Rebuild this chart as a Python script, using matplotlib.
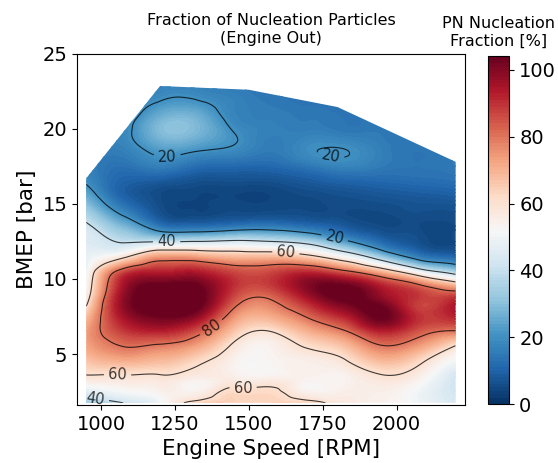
import numpy as np
import matplotlib
matplotlib.use("Agg")
import matplotlib.pyplot as plt
import matplotlib.tri as mtri
from matplotlib.patches import Polygon

# operating map grid
speed = [950, 1075, 1200, 1325, 1450, 1575, 1700, 1825, 1950, 2075, 2200]
bmep = [1.75, 2.5, 3.5, 4.5, 5.5, 6.5, 7.5, 8.5, 9.5, 10.5, 11.5,
        12.5, 13.5, 14.5, 15.5, 16.5, 17.5, 18.5, 19.5, 20.5, 21.5, 23]

# nucleation fraction [%], one row per bmep value
fraction = [
    [33, 40, 50, 63, 64, 64, 63, 57, 54, 50, 44],
    [46, 51, 54, 54, 62, 62, 54, 55, 55, 50, 42],
    [59, 59, 59, 56, 55, 54, 54, 54, 59, 55, 42],
    [66, 70, 68, 62, 54, 53, 55, 59, 68, 62, 50],
    [72, 80, 78, 72, 58, 54, 61, 67, 79, 73, 59],
    [73, 88, 92, 84, 66, 60, 70, 79, 92, 84, 79],
    [67, 95, 103, 98, 75, 71, 81, 92, 104, 90, 92],
    [57, 98, 108, 106, 84, 79, 92, 103, 100, 88, 93],
    [52, 95, 105, 104, 90, 88, 100, 104, 93, 83, 71],
    [49, 85, 92, 93, 86, 86, 90, 82, 68, 48, 33],
    [47, 57, 73, 72, 68, 68, 63, 50, 31, 15, 10],
    [45, 39, 39, 40, 42, 40, 35, 22, 11, 6, 5],
    [42, 28, 14, 12, 14, 15, 12, 8, 5, 5, 5],
    [34, 17, 6, 4, 5, 5, 5, 5, 5, 6, 6],
    [26, 10, 5, 4, 4, 4, 5, 6, 7, 8, 9],
    [19, 10, 8, 6, 6, 6, 8, 10, 11, 12, 13],
    [17, 13, 16, 12, 11, 11, 14, 17, 15, 14, 15],
    [17, 16, 22, 20, 18, 15, 19, 20.25, 16, 14, 15],
    [17, 18, 28, 27, 20.5, 16, 17, 16, 15, 14, 14],
    [17, 17, 28, 28, 18, 16, 15, 14, 14, 13, 13],
    [16, 16, 22, 22.5, 17, 15, 14, 13, 13, 13, 13],
    [15, 15, 16, 16, 15, 14, 13, 12, 12, 12, 12],
]

# upper limit of the measured map (full load line)
env_speed = [950, 1200, 1500, 1800, 2200]
env_bmep = [16.7, 22.85, 22.6, 21.45, 17.8]

line_levels = [20, 40, 60, 80]
label_pos = [(1224, 18.1), (1778, 18.2), (1222, 12.45), (1790, 12.7),
             (1626, 11.8), (1372, 6.8), (1056, 3.5), (983, 2.17), (1480, 2.1)]

# smooth interpolation of the grid
X, Y = np.meshgrid(speed, bmep)
Z = np.array(fraction, dtype=float)
tri = mtri.Triangulation(X.ravel() / 125.0, Y.ravel())
interp = mtri.CubicTriInterpolator(tri, Z.ravel(), kind="min_E")

xi = np.linspace(speed[0], speed[-1], 500)
yi = np.linspace(bmep[0], bmep[-1], 500)
XI, YI = np.meshgrid(xi, yi)
ZI = np.clip(interp(XI / 125.0, YI).filled(np.nan), 0, 103.9)

fig = plt.figure(figsize=(5.58, 4.63), dpi=100)
ax = fig.add_axes([0.138, 0.125, 0.695, 0.759])
cax = fig.add_axes([0.875, 0.127, 0.038, 0.751])

outline = Polygon(list(zip([speed[0]] + env_speed + [speed[-1]],
                           [bmep[0]] + env_bmep + [bmep[0]])),
                  closed=True, transform=ax.transData)

cf = ax.contourf(XI, YI, ZI, levels=np.linspace(0, 104, 105), cmap="RdBu_r")
cf.set_clip_path(outline)
cs = ax.contour(XI, YI, ZI, levels=line_levels, colors="k", linewidths=0.8, alpha=0.75)
cs.set_clip_path(outline)
ax.clabel(cs, fmt="%d", fontsize=10.5, inline=True, manual=label_pos)

ax.set_xlim(919, 2231)
ax.set_ylim(1.6, 25)
ax.set_xticks([1000, 1250, 1500, 1750, 2000])
ax.set_yticks([5, 10, 15, 20, 25])
ax.tick_params(labelsize=14)
ax.set_xlabel("Engine Speed [RPM]", fontsize=15.5)
ax.set_ylabel("BMEP [bar]", fontsize=15.5)
ax.set_title("Fraction of Nucleation Particles\n(Engine Out)", fontsize=11.5, pad=8)

cb = fig.colorbar(cf, cax=cax, ticks=[0, 20, 40, 60, 80, 100])
cb.ax.tick_params(labelsize=14)
cax.set_title("PN Nucleation\nFraction [%]", fontsize=11.5, pad=8)

fig.savefig("out.png", dpi=100)
